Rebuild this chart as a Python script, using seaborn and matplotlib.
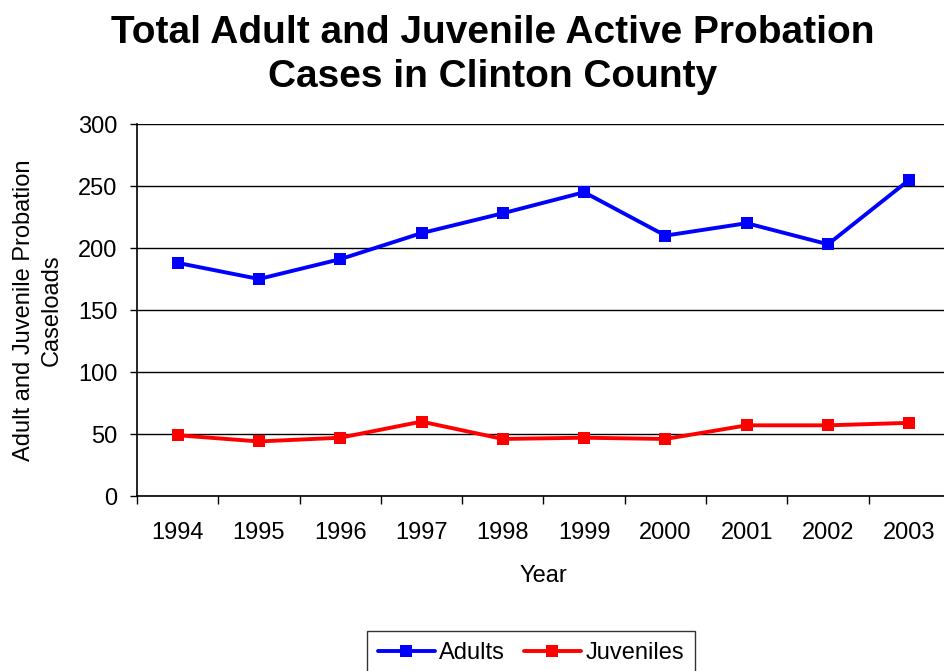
import matplotlib
matplotlib.use("Agg")
import matplotlib.pyplot as plt
from matplotlib.ticker import FixedLocator, NullFormatter
import seaborn as sns
import pandas as pd

years = [1994, 1995, 1996, 1997, 1998, 1999, 2000, 2001, 2002, 2003]
adults = [188, 175, 191, 212, 228, 245, 210, 220, 203, 255]
juveniles = [49, 44, 47, 60, 46, 47, 46, 57, 57, 59]
series_names = ["Adults", "Juveniles"]
series_colors = ["#0000FF", "#FF0000"]
y_ticks = [0, 50, 100, 150, 200, 250, 300]

df = pd.DataFrame({
    "Year": years * 2,
    "Cases": adults + juveniles,
    "Series": [series_names[0]] * len(years) + [series_names[1]] * len(years),
})

sns.set_style("white")
plt.rcParams["font.family"] = ["Liberation Sans", "DejaVu Sans"]
plt.rcParams["text.color"] = "black"
plt.rcParams["axes.labelcolor"] = "black"
plt.rcParams["xtick.color"] = "black"
plt.rcParams["ytick.color"] = "black"

fig = plt.figure(figsize=(9.44, 6.71), dpi=100)
ax = fig.add_axes([0.1451, 0.2608, 0.8612, 0.5544])

sns.lineplot(
    data=df, x="Year", y="Cases", hue="Series", style="Series",
    palette=dict(zip(series_names, series_colors)),
    markers={n: "s" for n in series_names}, dashes=False,
    linewidth=2.8, markersize=8.5, markeredgewidth=0, ax=ax, legend=True,
    zorder=3,
)

ax.set_xlim(years[0] - 0.5, years[-1] + 0.5)
ax.set_ylim(0, 300)
ax.set_yticks(y_ticks)
ax.yaxis.grid(True, color="black", linewidth=1.0)
ax.set_axisbelow(True)

# Category-style x axis: ticks at boundaries, labels at centres
ax.xaxis.set_major_locator(FixedLocator([y - 0.5 for y in years]))
ax.xaxis.set_major_formatter(NullFormatter())
ax.xaxis.set_minor_locator(FixedLocator(years))
ax.set_xticklabels([str(y) for y in years], minor=True)
ax.tick_params(axis="x", which="major", direction="out", length=6, width=1,
               color="black", bottom=True)
ax.tick_params(axis="x", which="minor", length=0, pad=19, labelsize=17)
ax.tick_params(axis="y", direction="out", length=5, width=1, color="black",
               left=True, pad=9, labelsize=17)

for side in ["top", "right"]:
    ax.spines[side].set_visible(False)
for side in ["left", "bottom"]:
    ax.spines[side].set_color("black")
    ax.spines[side].set_linewidth(1.2)

ax.set_xlabel("Year", fontsize=17, labelpad=15)
ax.set_ylabel("Adult and Juvenile Probation\nCaseloads", fontsize=17, labelpad=11,
              linespacing=1.35)

fig.text(0.522, 0.978, "Total Adult and Juvenile Active Probation\nCases in Clinton County",
         ha="center", va="top", fontsize=28, fontweight="bold", linespacing=1.3)

handles, labels = ax.get_legend_handles_labels()
ax.legend_.remove()
leg = fig.legend(handles, labels, loc="center", bbox_to_anchor=(0.5625, 0.027),
                 ncol=2, fontsize=17, frameon=True, fancybox=False,
                 edgecolor="black", handlelength=2.4, handletextpad=0.2,
                 columnspacing=0.8, borderpad=0.45)
leg.get_frame().set_linewidth(1.0)

fig.savefig("out.png", dpi=100)
